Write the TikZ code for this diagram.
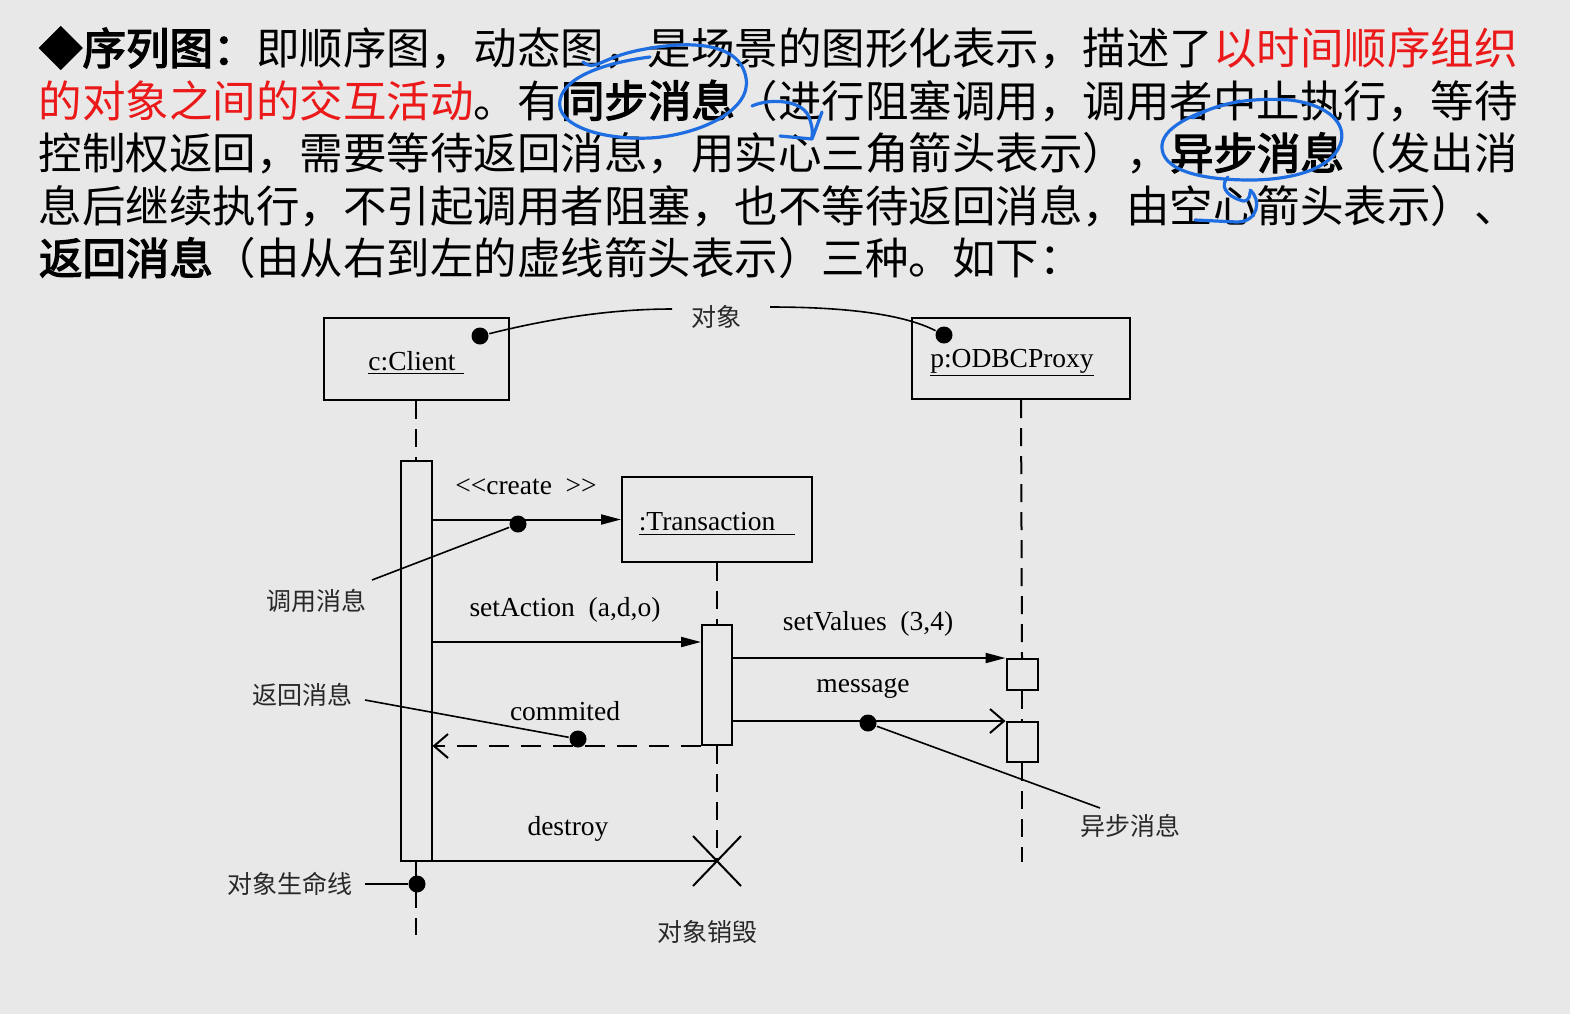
\documentclass[tikz,border=0pt]{standalone}
\usepackage{fontspec}
\usetikzlibrary{arrows.meta,shapes.misc}
\newfontfamily\cjk[AutoFakeBold=3]{Noto Sans CJK SC}
\newfontfamily\serifft{Liberation Serif}
\definecolor{bg}{RGB}{232,232,232}
\definecolor{redtxt}{RGB}{235,25,25}
\definecolor{pen}{RGB}{30,110,225}
\definecolor{note}{RGB}{40,40,40}
\begin{document}
\begin{tikzpicture}[x=0.5pt,y=-0.5pt,
  line width=1pt,
  objbox/.style={draw, rectangle, inner sep=0pt},
  objname/.style={inner sep=0pt, font=\serifft\fontsize{13.75pt}{16pt}\selectfont},
  actbar/.style={draw, fill=bg, rectangle, inner sep=0pt},
  lifeline/.style={dash pattern=on 9pt off 5pt},
  sync/.style={-{Triangle[length=10pt,width=5pt]}},
  async/.style={-{Straight Barb[length=7pt,width=12pt]}},
  retmsg/.style={dash pattern=on 10pt off 6pt, -{Straight Barb[length=7pt,width=12pt]}},
  dot/.style={circle, fill, inner sep=0pt, minimum size=8.5pt},
  msglabel/.style={font=\serifft\fontsize{13.75pt}{16pt}\selectfont, inner sep=0pt},
  notelabel/.style={font=\cjk\fontsize{12.5pt}{15pt}\selectfont, text=note, inner sep=0pt},
  noteline/.style={line width=0.8pt},
  txtline/.style={anchor=base west, inner sep=0pt, font=\cjk\fontsize{21.75pt}{26pt}\selectfont},
  bluepen/.style={draw=pen, line width=1.6pt, line cap=round, line join=round}
]
\fill[bg] (0,0) rectangle (1570,1014);
\useasboundingbox (0,0) rectangle (1570,1014);

% ---- text block ----
\node[txtline] (l1) at (38,64.5) {\textbf{◆序列图：}即顺序图，动态图，是场景的图形化表示，描述了\textcolor{redtxt}{以时间顺序组织}};
\node[txtline] (l2) at (38,117) {\textcolor{redtxt}{的对象之间的交互活动}。有\textbf{同步消息}（进行阻塞调用，调用者中止执行，等待};
\node[txtline] (l3) at (38,169.5) {控制权返回，需要等待返回消息，用实心三角箭头表示），\textbf{异步消息}（发出消};
\node[txtline] (l4) at (38,222) {息后继续执行，不引起调用者阻塞，也不等待返回消息，由空心箭头表示）、};
\node[txtline] (l5) at (38,274.5) {\textbf{返回消息}（由从右到左的虚线箭头表示）三种。如下：};

% ---- blue handwriting ----
\draw[bluepen] (583,62) .. controls (595,72) and (600,58) .. (640,50) .. controls (690,40) and (740,42) .. (746,78) .. controls (752,110) and (700,135) .. (650,138) .. controls (600,140) and (555,125) .. (560,100) .. controls (565,75) and (610,62) .. (650,57);
\draw[bluepen] (752,106) .. controls (770,98) and (800,100) .. (808,115) .. controls (812,124) and (813,132) .. (812,137);
\draw[bluepen] (780,136) -- (812,139) -- (822,112);
\draw[bluepen] (1193,118) .. controls (1220,100) and (1260,98) .. (1290,100) .. controls (1330,105) and (1348,125) .. (1340,145) .. controls (1330,170) and (1290,180) .. (1250,180) .. controls (1200,180) and (1160,170) .. (1162,145) .. controls (1164,125) and (1200,110) .. (1240,101);
\draw[bluepen] (1228,177) .. controls (1220,185) and (1225,195) .. (1240,200) .. controls (1245,203) and (1250,200) .. (1250,192);
\draw[bluepen] (1250,190) .. controls (1262,200) and (1258,222) .. (1237,222) -- (1195,220);

% ---- objects ----
\node[objbox, minimum width=92.5pt, minimum height=41pt] (client) at (416,359) {};
\node[objbox, minimum width=109pt, minimum height=40.5pt] (odbc) at (1021,358.5) {};
\node[objbox, minimum width=95pt, minimum height=42.5pt] (trans) at (717,519.5) {};
\node[objname] (clientName) at (416,363) {\underline{c:Client\hspace{4pt}}};
\node[objname] (odbcName) at (1012,363) {\underline{p:ODBCProxy}};
\node[objname] (transName) at (717,524) {\underline{:Transaction\hspace{10pt}}};

\coordinate (cEnd) at (416,935);
\coordinate (pEnd) at (1022,862);

% ---- activation bars ----
\node[actbar, minimum width=15.5pt, minimum height=200pt] (actC) at (416,661) {};
\node[actbar, minimum width=15pt, minimum height=60pt] (actT) at (717,685) {};
\node[actbar, minimum width=15.5pt, minimum height=15.5pt] (actP1) at (1022,674.5) {};
\node[actbar, minimum width=15.5pt, minimum height=20pt] (actP2) at (1022,742) {};
\node[draw, cross out, minimum width=23pt, minimum height=24pt, inner sep=0pt] (kill) at (717,861) {};

% ---- lifelines ----
\draw[lifeline] (client.south) -- (actC.north);
\draw[lifeline] (actC.south) -- (cEnd);
\draw[lifeline] (trans.south) -- (actT.north);
\draw[lifeline] (actT.south) -- (kill.center);
\draw[lifeline] (odbc.south) -- (actP1.north);
\draw[lifeline] (actP1.south) -- (actP2.north);
\draw[lifeline] (actP2.south) -- (pEnd);

% ---- messages ----
\draw[sync] (actC.east |- trans.west) -- (trans.west);
\draw[sync] (actC.east |- 0,642) -- (actT.west |- 0,642);
\draw[sync] (actT.east |- actP1.north) -- (actP1.north west);
\draw[async] (actT.east |- actP2.north) -- (actP2.north west);
\draw[retmsg] (actT.south west) -- (actC.east |- actT.south);
\draw (actC.east |- kill.center) -- (kill.center);

\node[msglabel] (lblCreate) at (526,487) {<<create\ \ >>};
\node[msglabel] (lblSA) at (565,610) {setAction\ \ (a,d,o)};
\node[msglabel] (lblSV) at (868,624) {setValues\ \ (3,4)};
\node[msglabel] (lblMsg) at (863,688) {message};
\node[msglabel] (lblCom) at (565,711) {commited};
\node[msglabel] (lblDes) at (568,829) {destroy};

% ---- annotations ----
\node[dot] (dC) at (480,336) {};
\node[dot] (dP) at (944,335) {};
\node[dot] (dCreate) at (518,524) {};
\node[dot] (dRet) at (578,739) {};
\node[dot] (dAsync) at (868,723) {};
\node[dot] (dLife) at (417,884) {};

\node[notelabel] (objLbl) at (716,317) {对象};
\coordinate (objL) at (672,309);
\coordinate (objR) at (770,307);
\draw[noteline] (dC) .. controls (560,316) and (620,309) .. (objL);
\draw[noteline] (objR) .. controls (850,307) and (905,315) .. (dP);

\node[notelabel] (callLbl) at (316,601) {调用消息};
\coordinate (callEnd) at (372,580);
\draw[noteline] (callEnd) -- (dCreate);

\node[notelabel] (retLbl) at (302,695) {返回消息};
\coordinate (retEnd) at (365,700);
\draw[noteline] (retEnd) -- (dRet);

\node[notelabel] (asyncLbl) at (1130,826) {异步消息};
\coordinate (asyncEnd) at (1100,808);
\draw[noteline] (dAsync) -- (asyncEnd);

\node[notelabel] (lifeLbl) at (290,884) {对象生命线};
\coordinate (lifeEnd) at (365,884);
\draw[noteline] (lifeEnd) -- (dLife);

\node[notelabel] (killLbl) at (707,932) {对象销毁};
\end{tikzpicture}
\end{document}
